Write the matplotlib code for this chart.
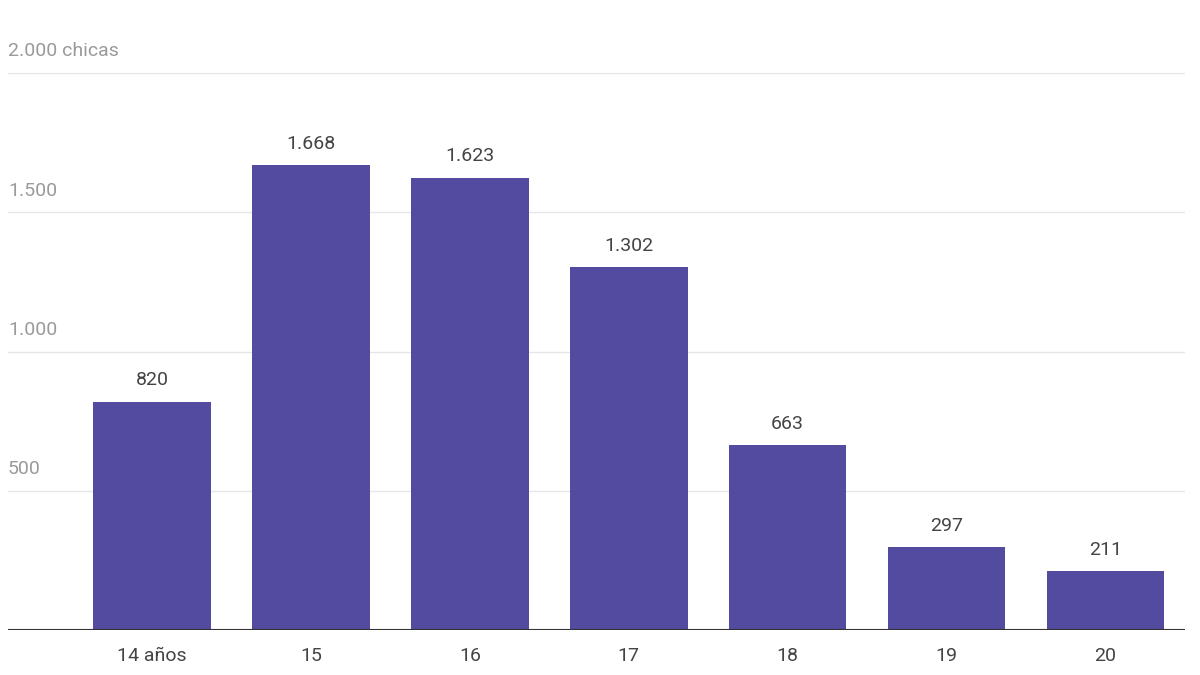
import matplotlib
matplotlib.use("Agg")
import matplotlib.pyplot as plt

categories = ["14 años", "15", "16", "17", "18", "19", "20"]
values = [820, 1668, 1623, 1302, 663, 297, 211]
value_labels = ["820", "1.668", "1.623", "1.302", "663", "297", "211"]
yticks = [500, 1000, 1500, 2000]
ytick_labels = ["500", "1.000", "1.500", "2.000 chicas"]

plt.rcParams['font.family'] = ['Roboto', 'DejaVu Sans']
fig = plt.figure(figsize=(12, 6.75), dpi=100)
ax = fig.add_axes([8/1200, 1-630/675, (1185-8)/1200, (630-73)/675])
x = list(range(len(categories)))
ax.bar(x, values, width=0.74, color="#524b9f", zorder=2)
ax.set_xlim(-0.906, 6.5)
ax.set_ylim(0, 2000)
for yt, lab in zip(yticks, ytick_labels):
    ax.axhline(yt, color="#e6e6e6", lw=1, zorder=1)
    ax.text(-0.906, yt + 45, lab, color="#9a9a9a", fontsize=14, ha="left", va="bottom")
for xi, v, lab in zip(x, values, value_labels):
    ax.text(xi, v + 45, lab, color="#444444", fontsize=14, ha="center", va="bottom")
ax.axhline(0, color="#333333", lw=1.5, zorder=3)
for s in ax.spines.values():
    s.set_visible(False)
ax.set_yticks([])
ax.set_xticks(x)
ax.set_xticklabels(categories, fontsize=14, color="#444444")
ax.tick_params(axis="x", length=0, pad=12)
fig.savefig("out.png", dpi=100, facecolor="white")
